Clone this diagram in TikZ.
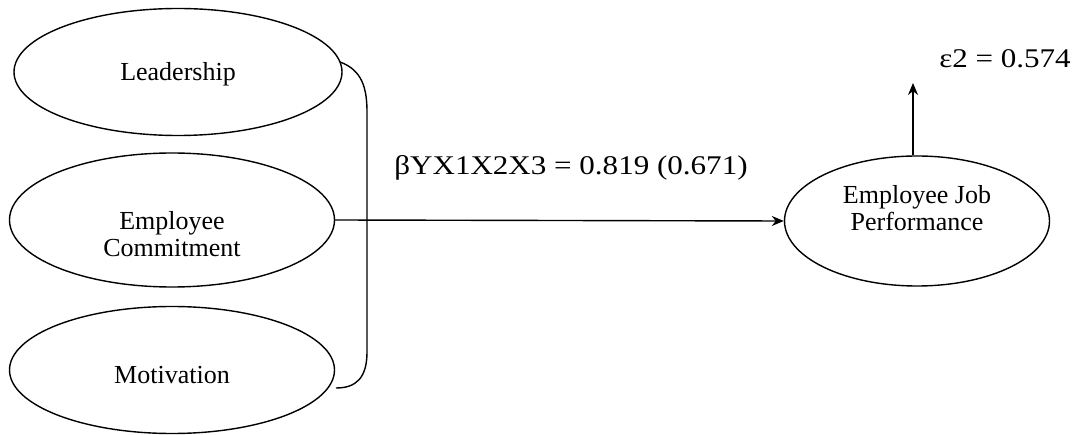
\documentclass[tikz,border=0pt]{standalone}
\usepackage{fontspec}
\setmainfont{Liberation Serif}
\usetikzlibrary{shapes.geometric,arrows.meta}
\begin{document}
\begin{tikzpicture}[x=1pt,y=-1pt,
  line width=1.4pt,
  oval/.style={draw, ellipse, inner sep=0pt, minimum width=#1},
  txt/.style={font=\fontsize{26}{27}\selectfont, align=center},
  eq/.style={font=\fontsize{27}{30}\selectfont},
  arr/.style={-{Stealth[length=12pt,width=10pt]}}]
\useasboundingbox (0,0) rectangle (1081,435);
% ellipses
\node[oval=328pt, minimum height=127pt,
      label={[txt, yshift=-2pt]center:Leadership}] (L) at (178,72) {};
\node[oval=325pt, minimum height=134pt,
      label={[txt, yshift=-14pt]center:Employee\\Commitment}] (C) at (172,220) {};
\node[oval=325pt, minimum height=127pt,
      label={[txt, yshift=-5pt]center:Motivation}] (M) at (172,370) {};
\node[oval=265pt, minimum height=130pt,
      label={[txt, yshift=13pt]center:Employee Job\\Performance}] (J) at (917,221) {};
% bracket grouping the three constructs
\coordinate (b1) at (340,62);
\coordinate (b2) at (336,388);
\draw (b1) .. controls (362,70) and (367,88) .. (367,112)
      -- (367,352) .. controls (367,378) and (356,388) .. (b2);
% path arrow
\draw[arr] (C.east) -- (J.west);
\node[eq, anchor=base] (beta) at (571,175) {\scalebox{1.15}[1]{βYX1X2X3 = 0.819 (0.671)}};
% residual
\coordinate (e2) at (913,83);
\draw[arr] (J.north -| e2) -- (e2);
\node[eq, anchor=base] (eps) at (1005,68) {\scalebox{1.15}[1]{ε2 = 0.574}};
\end{tikzpicture}
\end{document}
